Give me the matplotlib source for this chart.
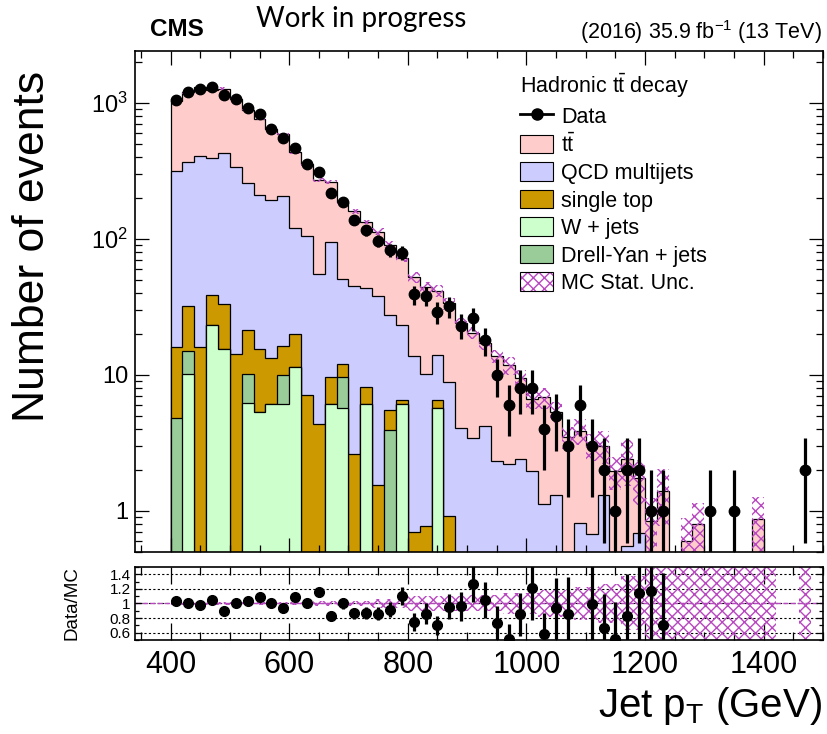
import numpy as np
import matplotlib
matplotlib.use("Agg")
import matplotlib.pyplot as plt
from matplotlib.patches import Patch
from matplotlib.lines import Line2D
from matplotlib.ticker import FixedLocator, FixedFormatter, MultipleLocator, LogLocator, NullFormatter

plt.rcParams['font.family'] = ['Liberation Sans', 'DejaVu Sans']
plt.rcParams['mathtext.fontset'] = 'custom'
plt.rcParams['mathtext.rm'] = 'Liberation Sans'
plt.rcParams['mathtext.it'] = 'Liberation Sans:italic'
plt.rcParams['mathtext.bf'] = 'Liberation Sans:bold'
plt.rcParams['hatch.linewidth'] = 1.0

# jet pT binning, 20 GeV bins
edges = np.arange(400, 1501, 20)

data_counts = [1055, 1202, 1265, 1307, 1148, 1073, 912, 830, 644, 550,
               468, 357, 310, 217, 187, 138, 116, 97, 83, 79,
               39, 38, 29, 32, 23, 26, 18, 10, 6, 8,
               8, 4, 5, 3, 6, 3, 2, 1, 2, 2,
               1, 1, 0, 0, 0, 1, 0, 1, 0, 0,
               0, 0, 0, 2, 0]

wjets = [0, 10.2, 0, 23.3, 15.6, 0, 6.2, 5.35, 6.15, 6.15,
         11.4, 0, 0, 6.15, 5.72, 0, 6.15, 0, 0, 6.15,
         0, 0, 5.72, 0, 0, 0, 0, 0, 0, 0,
         0, 0, 0, 0, 0, 0, 0, 0, 0, 0,
         0, 0, 0, 0, 0, 0, 0, 0, 0, 0,
         0, 0, 0, 0, 0]

drellyan = [4.8, 4.8, 0, 0, 0, 0, 3.9, 0, 0, 3.85,
            0, 0, 0, 0, 3.87, 0, 0, 0, 3.92, 0,
            0, 0, 0, 0, 0, 0, 0, 0, 0, 0,
            0, 0, 0, 0, 0, 0, 0, 0, 0, 0,
            0, 0, 0, 0, 0, 0, 0, 0, 0, 0,
            0, 0, 0, 0, 0]

single_top = [11.2, 17.0, 16.0, 15.4, 17.4, 14.2, 11.1, 10.2, 7.2, 6.3,
              8.5, 7.07, 4.34, 3.44, 2.5, 2.62, 2.0, 1.55, 1.58, 0.35,
              0.70, 0.78, 0.78, 0.92, 0, 0, 0, 0, 0, 0,
              0, 0, 0, 0, 0, 0, 0, 0, 0, 0,
              0, 0, 0, 0, 0, 0, 0, 0, 0, 0,
              0, 0, 0, 0, 0]

qcd = [299, 334, 390, 351, 397, 325, 235, 194, 180, 191,
       101, 98, 50.8, 84.5, 38.6, 42.7, 35.6, 36.3, 22.1, 16.6,
       13.0, 9.4, 7.4, 7.95, 4.04, 3.45, 4.2, 2.32, 2.21, 2.42,
       1.98, 1.12, 1.32, 0, 0.81, 0.675, 1.30, 0, 0.55, 0.69,
       0, 0, 0, 0, 0, 0, 0, 0, 0, 0,
       0, 0, 0, 0, 0]

ttbar = [707, 825, 895, 854, 841, 724, 628, 549, 451, 381,
         311, 249, 214, 166, 136, 114, 89, 75, 63, 48.6,
         38.6, 33.9, 27.6, 24.6, 19.9, 17.0, 13.0, 11.4, 9.6, 7.0,
         4.66, 5.74, 4.05, 3.48, 3.09, 2.33, 1.72, 1.96, 1.88, 1.05,
         0.85, 1.41, 0, 0.60, 0.80, 0, 0, 0, 0, 0.87,
         0, 0, 0, 0, 0]

# MC statistical uncertainty on the summed prediction
mc_err = [20, 24, 26, 25, 25, 21, 18, 15, 13, 12,
          13, 11, 9, 9, 7, 6.4, 5.3, 6.8, 5.4, 4.3,
          5.2, 4.4, 4.2, 3.4, 2.4, 2.2, 1.9, 1.5, 1.8, 1.4,
          1.0, 1.2, 0.97, 0.63, 0.86, 0.66, 0.82, 0.53, 0.9, 0.64,
          0.4, 0.63, 0, 0.29, 0.34, 0, 0, 0, 0, 0.40,
          0, 0, 0, 0, 0]

# relative band shown in the ratio pad
ratio_unc = [0.025, 0.025, 0.025, 0.025, 0.025, 0.025, 0.025, 0.025, 0.025, 0.025,
             0.025, 0.025, 0.04, 0.04, 0.04, 0.04, 0.04, 0.06, 0.06, 0.06,
             0.1, 0.1, 0.1, 0.1, 0.1, 0.11, 0.11, 0.11, 0.15, 0.15,
             0.15, 0.18, 0.18, 0.18, 0.22, 0.22, 0.27, 0.27, 0.37, 0.37,
             0.48, 0.48, 1.0, 1.0, 1.0, 1.0, 1.0, 1.0, 1.0, 1.0,
             1.0, 0, 0, 1.0, 0]

col_tt = '#ffcccc'
col_qcd = '#ccccff'
col_st = '#cc9900'
col_w = '#ccffcc'
col_dy = '#99cc99'
col_unc = '#b848c0'

centers = 0.5 * (edges[1:] + edges[:-1])
width = edges[1] - edges[0]
data = np.array(data_counts, dtype=float)

c1 = np.array(wjets)
c2 = c1 + np.array(drellyan)
c3 = c2 + np.array(single_top)
c4 = c3 + np.array(qcd)
c5 = c4 + np.array(ttbar)
total = c5
err = np.array(mc_err)

fig = plt.figure(figsize=(8.28, 7.34), dpi=100)
ax = fig.add_axes([0.1630, 0.2480, 0.8309, 0.6826])
rax = fig.add_axes([0.1630, 0.1281, 0.8309, 0.0995])

floor = 1e-3
# stacked histogram, drawn from the largest cumulative down
for cum, col in [(c5, col_tt), (c4, col_qcd), (c3, col_st), (c2, col_dy), (c1, col_w)]:
    ax.stairs(np.maximum(cum, floor), edges, baseline=floor, fill=True,
              facecolor=col, edgecolor='black', linewidth=0.9)

has_err = err > 0
lo = np.maximum(total - err, floor)
ax.bar(centers[has_err], (total + err - lo)[has_err], bottom=lo[has_err], width=width,
       fill=False, hatch='xxx', edgecolor=col_unc, linewidth=0)

has_data = data > 0
ax.errorbar(centers[has_data], data[has_data], yerr=np.sqrt(data[has_data]), xerr=7,
            fmt='o', color='black', ms=7.5, elinewidth=2.3, capsize=0)

ax.set_yscale('log')
ax.set_xlim(340, 1500)
ax.set_ylim(0.5, 2400)
ax.yaxis.set_major_locator(FixedLocator([1, 10, 100, 1000]))
ax.yaxis.set_major_formatter(FixedFormatter(['1', '10', r'$10^{2}$', r'$10^{3}$']))
ax.yaxis.set_minor_locator(LogLocator(base=10, subs=np.arange(2, 10)))
ax.yaxis.set_minor_formatter(NullFormatter())
ax.xaxis.set_major_locator(MultipleLocator(200))
ax.xaxis.set_minor_locator(MultipleLocator(50))
ax.tick_params(axis='x', labelbottom=False)
ax.tick_params(which='both', direction='in', top=True, right=True, width=0.9)
ax.tick_params(which='major', length=10, labelsize=17, pad=5)
ax.tick_params(which='minor', length=5)
for s in ax.spines.values():
    s.set_linewidth(1.2)

handles = [Line2D([], [], color='black', marker='o', ms=8, lw=2),
           Patch(facecolor=col_tt, edgecolor='black', lw=0.8),
           Patch(facecolor=col_qcd, edgecolor='black', lw=0.8),
           Patch(facecolor=col_st, edgecolor='black', lw=0.8),
           Patch(facecolor=col_w, edgecolor='black', lw=0.8),
           Patch(facecolor=col_dy, edgecolor='black', lw=0.8),
           (Patch(facecolor='white', edgecolor=col_unc, hatch='xxx', lw=0),
            Patch(fill=False, edgecolor='black', lw=0.8))]
labels = ['Data', r'$\mathrm{t\bar{t}}$', 'QCD multijets', 'single top', 'W + jets',
          'Drell-Yan + jets', 'MC Stat. Unc.']
leg = ax.legend(handles, labels, title=r'Hadronic $\mathrm{t\bar{t}}$ decay',
                loc='upper left', bbox_to_anchor=(520 / 828, 1 - 72 / 734),
                bbox_transform=fig.transFigure, frameon=False, fontsize=15.5,
                title_fontsize=15.5, alignment='left', handlelength=1.55,
                handleheight=0.95, labelspacing=0.27, handletextpad=0.35,
                borderpad=0, borderaxespad=0)

# ratio pad
ratio = np.zeros_like(data)
ratio_err = np.zeros_like(data)
ok = has_data & (total > 0)
ratio[ok] = data[ok] / total[ok]
ratio_err[ok] = np.sqrt(data[ok]) / total[ok]
show = ok & (ratio < 1.5)

for v in [0.6, 0.8, 1.0, 1.2, 1.4]:
    rax.axhline(v, color='black', ls=(0, (2, 2)), lw=0.8, zorder=0)
rax.axhline(1.0, color=col_unc, ls='--', lw=1.0, zorder=1)
runc = np.array(ratio_unc)
has_band = runc > 0
rax.bar(centers[has_band], 2 * runc[has_band], bottom=1 - runc[has_band], width=width,
        fill=False, hatch='xxx', edgecolor=col_unc, linewidth=0, zorder=2)
rax.errorbar(centers[show], ratio[show], yerr=ratio_err[show], xerr=7,
             fmt='o', color='black', ms=7, elinewidth=2.3, capsize=0, zorder=3)

rax.set_xlim(340, 1500)
rax.set_ylim(0.5, 1.5)
rax.yaxis.set_major_locator(FixedLocator([0.6, 0.8, 1.0, 1.2, 1.4]))
rax.yaxis.set_major_formatter(FixedFormatter(['0.6', '0.8', '1', '1.2', '1.4']))
rax.yaxis.set_minor_locator(MultipleLocator(0.1))
rax.xaxis.set_major_locator(MultipleLocator(200))
rax.xaxis.set_minor_locator(MultipleLocator(50))
rax.tick_params(which='both', direction='in', top=True, right=True, width=0.9)
rax.tick_params(axis='x', which='major', length=12, labelsize=22, pad=7)
rax.tick_params(axis='x', which='minor', length=6)
rax.tick_params(axis='y', which='major', length=5, labelsize=11, pad=3)
rax.tick_params(axis='y', which='minor', length=3)
for s in rax.spines.values():
    s.set_linewidth(1.2)

fig.text(33 / 828, 1 - 246 / 734, 'Number of events', rotation=90, ha='center',
         va='center', fontsize=32)
fig.text(72 / 828, 1 - 603 / 734, 'Data/MC', rotation=90, ha='center',
         va='center', fontsize=13.5)
fig.text(822 / 828, 1 - 706 / 734, r'Jet p$_{\mathrm{T}}$ (GeV)', ha='right',
         va='center', fontsize=29)

fig.text(150 / 828, 1 - 29 / 734, 'CMS', fontweight='bold', ha='left',
         va='center', fontsize=17.5)
fig.text(361 / 828, 1 - 19 / 734, 'Work in progress', family=['Lato', 'DejaVu Sans'],
         ha='center', va='center', fontsize=20)
fig.text(822 / 828, 1 - 32 / 734, r'(2016) 35.9 fb$^{-1}$ (13 TeV)', ha='right',
         va='center', fontsize=15.5)

fig.savefig('out.png', dpi=100)
